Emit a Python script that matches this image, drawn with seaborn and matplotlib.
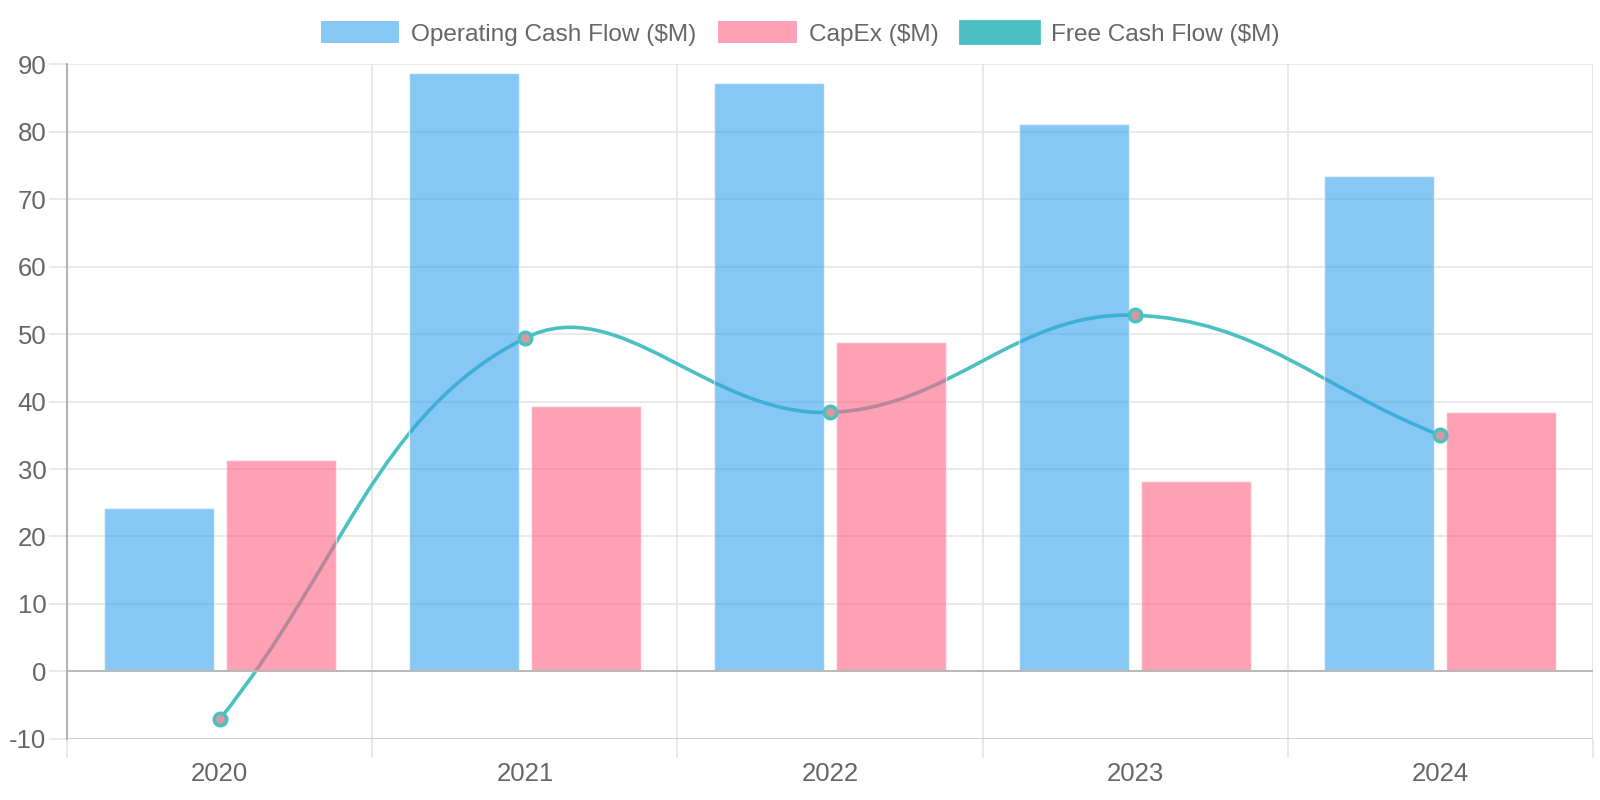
import numpy as np
import pandas as pd
import matplotlib
matplotlib.use("Agg")
import matplotlib.pyplot as plt
import seaborn as sns
from matplotlib.path import Path
from matplotlib.patches import PathPatch, Patch

years = ["2020", "2021", "2022", "2023", "2024"]
operating_cf = [24.2, 88.7, 87.3, 81.1, 73.4]
capex = [31.3, 39.3, 48.9, 28.3, 38.4]
free_cf = [-7.1, 49.4, 38.4, 52.8, 35.0]

ocf_name = "Operating Cash Flow ($M)"
capex_name = "CapEx ($M)"
fcf_name = "Free Cash Flow ($M)"

blue = "#36A2EB"
pink = "#FF6384"
teal = "#4BC0C0"
text_col = "#666666"
grid_col = "#e5e5e5"

sns.set_theme(style="white")
plt.rcParams["font.family"] = ["Liberation Sans", "DejaVu Sans"]
plt.rcParams["axes.unicode_minus"] = False

df = pd.DataFrame({
    "Year": years * 2,
    "Value": operating_cf + capex,
    "Series": [ocf_name] * len(years) + [capex_name] * len(years),
})

fig = plt.figure(figsize=(16, 8), dpi=100)
ax = fig.add_axes([0.042, 0.0765, 0.9535, 0.843])

sns.barplot(data=df, x="Year", y="Value", hue="Series",
            palette=[blue, pink], alpha=0.6, gap=0.1, width=0.8,
            saturation=1, errorbar=None, ax=ax, legend=False, zorder=2)

ax.set_xlim(-0.5, len(years) - 0.5)
ax.set_ylim(-10, 90)
ax.set_yticks(np.arange(-10, 91, 10))

# smooth line (Chart.js style bezier, tension 0.4) computed in pixel space
x = np.arange(len(years))
pts = ax.transData.transform(np.column_stack([x, free_cf]))
tension = 0.4
ctrl_prev = []
ctrl_next = []
for i in range(len(pts)):
    p = pts[i]
    a = pts[i - 1] if i > 0 else p
    b = pts[i + 1] if i < len(pts) - 1 else p
    d01 = np.hypot(*(p - a))
    d12 = np.hypot(*(b - p))
    s01 = d01 / (d01 + d12) if d01 + d12 else 0
    s12 = d12 / (d01 + d12) if d01 + d12 else 0
    ctrl_prev.append(p - tension * s01 * (b - a))
    ctrl_next.append(p + tension * s12 * (b - a))
verts = [pts[0]]
codes = [Path.MOVETO]
for i in range(1, len(pts)):
    verts += [ctrl_next[i - 1], ctrl_prev[i], pts[i]]
    codes += [Path.CURVE4] * 3
inv = ax.transData.inverted()
verts = inv.transform(np.array(verts))
ax.add_patch(PathPatch(Path(verts, codes), facecolor="none", edgecolor=teal,
                       lw=2.6, zorder=1.5))
ax.plot(x, free_cf, ls="none", marker="o", ms=9, mfc="#d49a9f", mec=teal,
        mew=2.5, zorder=4)

# grid and axes
for y in np.arange(-10, 91, 10):
    if y == 0:
        continue
    ax.axhline(y, color=grid_col, lw=1.2, zorder=0)
ax.axhline(0, color="#b8b8b8", lw=1.4, zorder=2.5)
ax.axhline(-10, color="#cfcfcf", lw=1.4, zorder=0.6)
for b in np.arange(0.5, len(years) - 0.5, 1):
    ax.axvline(b, color=grid_col, lw=1.2, zorder=0)

for s in ["top", "right", "bottom"]:
    ax.spines[s].set_visible(False)
ax.spines["left"].set_color("#b0b0b0")
ax.spines["left"].set_linewidth(1.4)
ax.axvline(len(years) - 0.5, color=grid_col, lw=1.4, zorder=0)

ax.set_xticks(np.arange(-0.5, len(years), 1), minor=True)
ax.tick_params(axis="x", which="minor", length=14, color=grid_col, width=1.2,
               direction="out", bottom=True)
ax.tick_params(axis="x", which="major", length=0, pad=17, labelsize=18.5,
               labelcolor=text_col)
ax.tick_params(axis="y", which="major", length=13, color=grid_col, width=1.2,
               left=True, pad=2, labelsize=18.5, labelcolor=text_col)
ax.set_xlabel("")
ax.set_ylabel("")

handles = [
    Patch(facecolor=blue, alpha=0.6, edgecolor="none", label=ocf_name),
    Patch(facecolor=pink, alpha=0.6, edgecolor="none", label=capex_name),
    Patch(facecolor=teal, edgecolor=teal, lw=2, label=fcf_name),
]
leg = fig.legend(handles=handles, loc="center", bbox_to_anchor=(0.5, 0.958),
                 ncol=3, frameon=False, fontsize=17.6, handlelength=3.2,
                 handleheight=1.0, handletextpad=0.5, columnspacing=0.9)
for t in leg.get_texts():
    t.set_color(text_col)

fig.savefig("out.png", dpi=100)
